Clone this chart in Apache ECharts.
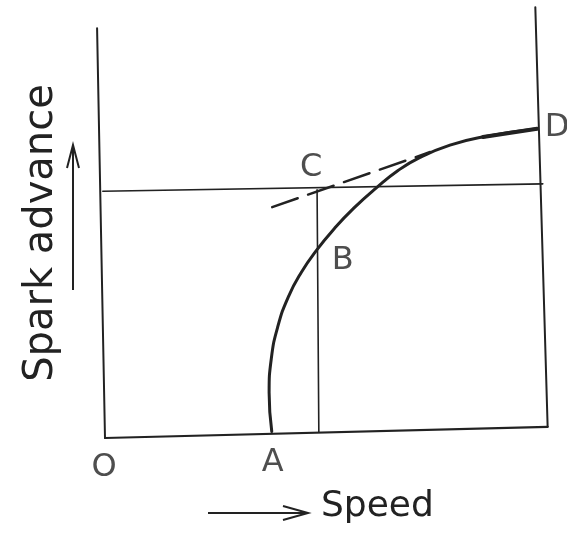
<!DOCTYPE html>
<html>
<head>
<meta charset="utf-8">
<script src="https://cdn.jsdelivr.net/npm/echarts@6/dist/echarts.min.js"></script>
<style>
  html, body { margin: 0; padding: 0; background: #fff; }
  #chart { width: 567px; height: 534px; }
</style>
</head>
<body>
<div id="chart"></div>
<script>
// diagram units: speed 0..100 across, spark advance 0..100 up (scan is slightly tilted)
var leftAxis = [[-1.8, 95.3], [0, 0]];
var bottomAxis = [[0, 0], [100.6, 2.6]];
var rightLine = [[97.8, 100.2], [100.6, 2.6]];
var levelLine = [[-0.5, 57.4], [99.5, 59.1]];
var dropLine = [[48.2, 57.7], [48.6, 1.4]];

// spark advance curve A -> B -> D
var curve = [
  [37.9, 1.5], [37.3, 10.5], [37.8, 18.5], [39.3, 26.0], [41.7, 32.9],
  [44.6, 38.5], [48.1, 43.7], [52.2, 48.8], [56.6, 53.5], [61.6, 58.1],
  [66.6, 62.2], [71.5, 65.2], [78.4, 68.1], [85.9, 70.0], [98.2, 71.9]
];
// dashed extension through C
var dashLine = [[38.0, 53.7], [73.9, 66.5]];

var pointNames = ['O', 'A', 'B', 'C', 'D'];
var points = [[0, 0], [37.9, 1.5], [48.1, 43.7], [48.2, 57.7], [98.2, 71.9]];
var labelOffsets = [[-1, 30], [1, 31], [26, 11], [-6, -22], [20, -1]];

var ink = '#222';

function seg(data, width, type) {
  return {
    type: 'line',
    data: data,
    symbol: 'none',
    clip: false,
    silent: true,
    lineStyle: { color: ink, width: width, type: type || 'solid', cap: 'round' }
  };
}

var chart = echarts.init(document.getElementById('chart'));
var option = {
  animation: false,
  backgroundColor: '#fff',
  grid: { left: 83, right: 0, top: 8, bottom: 53 },
  xAxis: { type: 'value', min: -5, max: 105, show: false },
  yAxis: { type: 'value', min: -10, max: 100, show: false },
  graphic: [
    {
      type: 'text', x: 42, y: 233, rotation: Math.PI / 2,
      style: { text: 'Spark advance', font: '40px "DejaVu Sans"', fill: ink,
        textAlign: 'center', textVerticalAlign: 'middle' }
    },
    { type: 'line', shape: { x1: 73, y1: 290, x2: 73, y2: 147 }, style: { stroke: ink, lineWidth: 2 } },
    { type: 'polyline', shape: { points: [[67, 168], [73, 145], [79, 168]] }, style: { stroke: ink, lineWidth: 2, fill: null } },
    { type: 'line', shape: { x1: 208, y1: 513, x2: 305, y2: 513 }, style: { stroke: ink, lineWidth: 2 } },
    { type: 'polyline', shape: { points: [[283, 506], [308, 513], [283, 520]] }, style: { stroke: ink, lineWidth: 2, fill: null } },
    {
      type: 'text', x: 321, y: 507,
      style: { text: 'Speed', font: '36px "DejaVu Sans"', fill: ink,
        textAlign: 'left', textVerticalAlign: 'middle' }
    }
  ],
  series: [
    seg(leftAxis, 2),
    seg(bottomAxis, 2.2),
    seg(rightLine, 2),
    seg(levelLine, 1.6),
    seg(dropLine, 1.6),
    Object.assign(seg(curve, 3), { smooth: 0.5 }),
    // heavier stroke toward D, as in the drawing
    Object.assign(seg(curve.slice(-2), 4), { smooth: 0.5 }),
    seg(dashLine, 2.5, [27, 11]),
    {
      type: 'scatter',
      symbolSize: 0,
      silent: true,
      clip: false,
      data: points.map(function (p, i) {
        return {
          value: p,
          label: {
            show: true,
            formatter: pointNames[i],
            position: 'inside',
            offset: labelOffsets[i],
            fontFamily: 'DejaVu Sans',
            fontSize: 32,
            color: ink
          }
        };
      })
    }
  ]
};
chart.setOption(option);
</script>
</body>
</html>
